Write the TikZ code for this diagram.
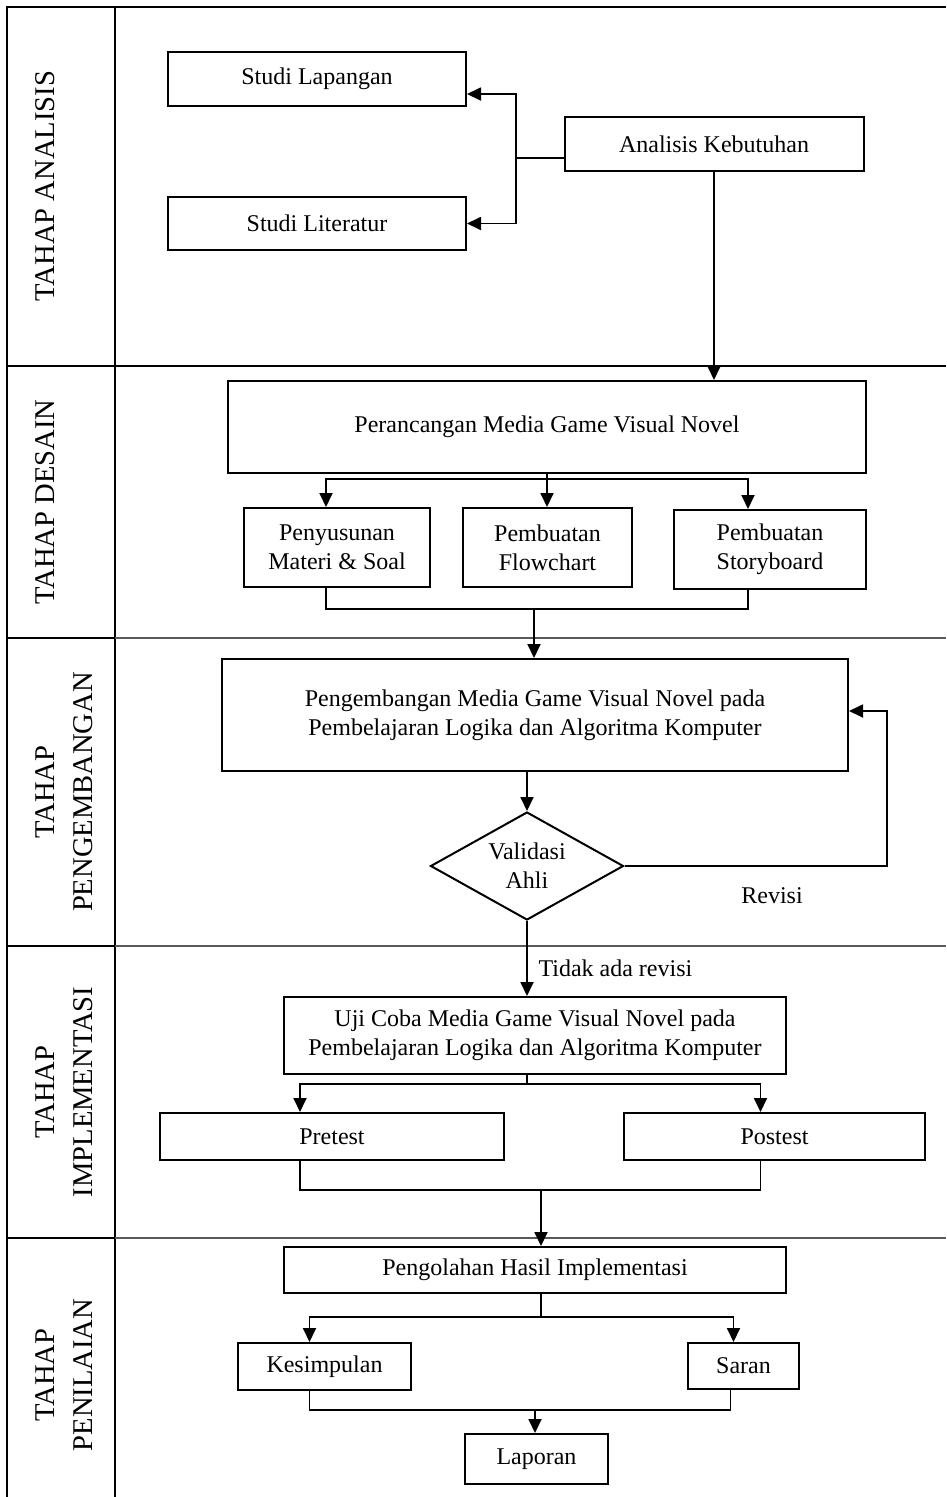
\documentclass[tikz,border=0pt]{standalone}
\usepackage{fontspec}
\setmainfont{Liberation Serif}
\usetikzlibrary{arrows.meta,calc,shapes.geometric}

\begin{document}
\begin{tikzpicture}[x=1pt,y=-1pt,
		garis/.style={line width=2pt},
		tipis/.style={line width=1.1pt,color=black!65},
		kotak/.style 2 args={draw,line width=2pt,align=center,inner sep=0pt,minimum width=#1,minimum height=#2,font=\fontsize{24}{29}\selectfont},
		lajur/.style={rotate=90,align=center,font=\fontsize{28.6}{38}\selectfont},
		teks/.style={font=\fontsize{24}{29}\selectfont},
		arr/.style={line width=1.8pt,-{Triangle[length=14pt,width=13pt]}},
		hub/.style={line width=1.8pt}]
			%%%%% START %%%%%
			\useasboundingbox (0,0) rectangle (946,1497);
			
			% lanes
			\draw[garis] (7,1497) -- (7,7) -- (946,7);
			\draw[garis] (115,7) -- (115,1497);
			\draw[garis] (7,366) -- (946,366);
			\foreach \y in {638,946,1238}
				{\draw[garis] (7,\y) -- (115,\y);
				 \draw[tipis] (115,\y) -- (946,\y);}
			
			\node[lajur] (lajurA) at (45,186) {TAHAP ANALISIS};
			\node[lajur] (lajurB) at (45,502) {TAHAP DESAIN};
			\node[lajur] (lajurC) at (64,792) {TAHAP\\PENGEMBANGAN};
			\node[lajur] (lajurD) at (64,1092) {TAHAP\\IMPLEMENTASI};
			\node[lajur] (lajurE) at (64,1375) {TAHAP\\PENILAIAN};
			
			% tahap analisis
			\node[kotak={298pt}{54pt}] (lap) at (317,79) {Studi Lapangan};
			\node[kotak={298pt}{53pt}] (lit) at (317,223.5) {Studi Literatur};
			\node[kotak={299pt}{54pt}] (keb) at (714,144) {Analisis Kebutuhan};
			
			\coordinate (jA) at (516,158);
			\draw[hub] (keb.west |- jA) -- (jA);
			\draw[arr] (jA) |- ([yshift=-15pt]lap.east);
			\draw[arr] (jA) |- (lit.east);
			
			% tahap desain
			\node[kotak={638pt}{92pt}] (ranc) at (547,427) {Perancangan Media Game Visual Novel};
			\node[kotak={186pt}{79pt}] (susun) at (337,547.5) {Penyusunan\\Materi \& Soal};
			\node[kotak={169pt}{79pt}] (flow) at (547.5,547.5) {Pembuatan\\Flowchart};
			\node[kotak={192pt}{79pt}] (story) at (770,549.5) {Pembuatan\\Storyboard};
			
			\draw[arr] (keb.south) -- (keb.south |- ranc.north);
			
			\coordinate (jB) at (547,479);
			\draw[hub] (ranc.south) -- (jB);
			\draw[arr] (jB) -| ([xshift=-11pt]susun.north);
			\draw[arr] (jB) -- (jB |- flow.north);
			\draw[arr] (jB) -| ([xshift=-22pt]story.north);
			
			\coordinate (jC) at (534,609);
			\draw[hub] ([xshift=-11pt]susun.south) |- (jC) -| ([xshift=-22pt]story.south);
			
			% tahap pengembangan
			\node[kotak={626pt}{112pt}] (kemb) at (535,715) {Pengembangan Media Game Visual Novel pada\\Pembelajaran Logika dan Algoritma Komputer};
			\node[kotak={193pt}{108pt},shape=diamond,aspect=1.8] (valid) at (527,866) {Validasi\\Ahli};
			\node[teks] (rev) at (772,896) {Revisi};
			
			\draw[arr] (jC) -- (jC |- kemb.north);
			\draw[arr] (valid.north |- kemb.south) -- (valid.north);
			\coordinate (jD) at (887,866);
			\draw[arr] (valid.east) -- (jD) |- ([yshift=4pt]kemb.east);
			
			% tahap implementasi
			\node[kotak={502pt}{77pt}] (uji) at (535,1035.5) {Uji Coba Media Game Visual Novel pada\\Pembelajaran Logika dan Algoritma Komputer};
			\node[kotak={344pt}{47pt}] (pre) at (332,1136.5) {Pretest};
			\node[kotak={301pt}{47pt}] (post) at (774.5,1136.5) {Postest};
			\node[teks,anchor=west] (tdk) at (535,968) {Tidak ada revisi};
			
			\draw[arr] (valid.south) -- (valid.south |- uji.north);
			
			\coordinate (jE) at (527,1084);
			\draw[hub] (jE |- uji.south) -- (jE);
			\draw[arr] (jE) -| ([xshift=-32pt]pre.north);
			\draw[arr] (jE) -| ([xshift=-14pt]post.north);
			
			\coordinate (jF) at (541,1190);
			\draw[hub] ([xshift=-32pt]pre.south) |- (jF) -| ([xshift=-14pt]post.south);
			
			% tahap penilaian
			\node[kotak={502pt}{46pt}] (olah) at (535,1270) {Pengolahan Hasil Implementasi};
			\node[kotak={173pt}{47pt}] (kes) at (324.5,1366.5) {Kesimpulan};
			\node[kotak={111pt}{46pt}] (saran) at (743.5,1366) {Saran};
			\node[kotak={143pt}{50pt}] (lapor) at (536.5,1459) {Laporan};
			
			\draw[arr] (jF) -- (jF |- olah.north);
			
			\coordinate (jG) at (541,1317);
			\draw[hub] (jG |- olah.south) -- (jG);
			\draw[arr] (jG) -| ([xshift=-15pt]kes.north);
			\draw[arr] (jG) -| ([xshift=-10pt]saran.north);
			
			\coordinate (jH) at (535,1410);
			\draw[hub] ([xshift=-15pt]kes.south) |- (jH) -| ([xshift=-13pt]saran.south);
			\draw[arr] (jH) -- (jH |- lapor.north);
			
			%%%%% END %%%%%
		\end{tikzpicture}
\end{document}
